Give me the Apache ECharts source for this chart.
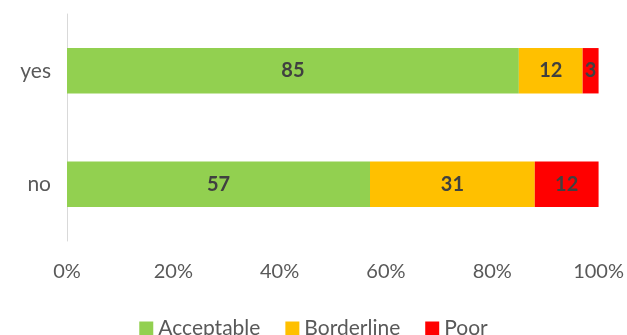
<!DOCTYPE html>
<html>
<head>
<meta charset="utf-8">
<script src="https://cdn.jsdelivr.net/npm/echarts@6/dist/echarts.min.js"></script>
<style>
  html, body { margin: 0; padding: 0; background: #fff; }
  #main { width: 627px; height: 335px; }
</style>
</head>
<body>
<div id="main"></div>
<script>
const categories = ['yes', 'no']
const acceptable = [85, 57]
const borderline = [12, 31]
const poor = [3, 12]
const xTicks = [0, 20, 40, 60, 80, 100]

const chart = echarts.init(document.getElementById('main'))

const makeSeries = (name, data, color) => ({
  name: name,
  type: 'bar',
  stack: 'total',
  data: data,
  barWidth: '40%',
  itemStyle: { color: color },
  label: {
    show: true,
    position: 'inside',
    color: '#404040',
    fontWeight: 'bold',
    fontSize: 20,
    fontFamily: 'Lato'
  }
})

chart.setOption({
  animation: false,
  textStyle: { fontFamily: 'Lato' },
  grid: { left: 67, right: 27, top: 14, bottom: 94 },
  legend: {
    data: ['Acceptable', 'Borderline', 'Poor'],
    top: 313,
    left: 'center',
    icon: 'rect',
    itemWidth: 14,
    itemHeight: 14,
    itemGap: 25,
    textStyle: { color: '#595959', fontSize: 21, fontFamily: 'Lato' }
  },
  xAxis: {
    type: 'value',
    min: xTicks[0],
    max: xTicks[xTicks.length - 1],
    interval: 20,
    axisLine: { show: false },
    axisTick: { show: false },
    splitLine: { show: false },
    axisLabel: {
      formatter: '{value}%',
      color: '#595959',
      fontSize: 20,
      margin: 21
    }
  },
  yAxis: {
    type: 'category',
    data: categories,
    inverse: true,
    axisLine: { show: true, lineStyle: { color: '#d9d9d9', width: 1 } },
    axisTick: { show: false },
    axisLabel: { color: '#595959', fontSize: 21, margin: 16 }
  },
  series: [
    makeSeries('Acceptable', acceptable, '#92D050'),
    makeSeries('Borderline', borderline, '#FFC000'),
    makeSeries('Poor', poor, '#FF0000')
  ]
})
</script>
</body>
</html>
